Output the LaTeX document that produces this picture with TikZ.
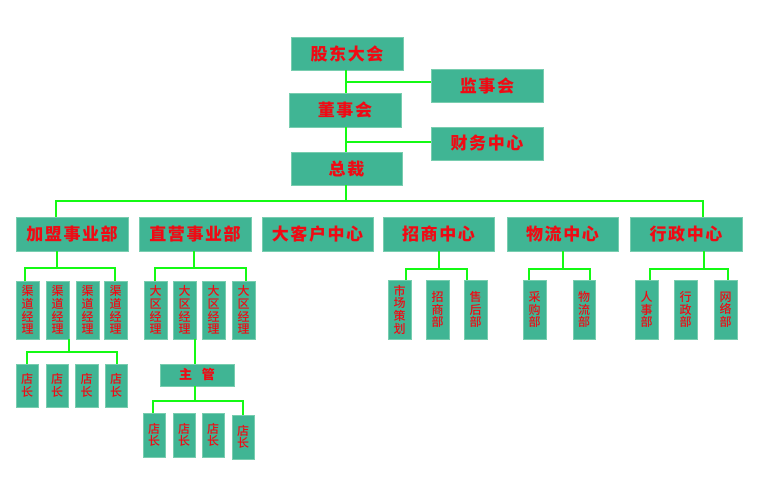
\documentclass[tikz,border=0pt]{standalone}
\usepackage{fontspec}
\newfontfamily\cjkw{Noto Sans CJK SC}[LetterSpace=9]
\newfontfamily\cjk{Noto Sans CJK SC}[UprightFont={* Medium}]
\definecolor{boxfill}{RGB}{64,181,148}
\definecolor{boxline}{RGB}{120,205,175}
\definecolor{txtred}{RGB}{240,10,20}
\definecolor{lngreen}{RGB}{20,250,20}
\tikzset{
  box/.style={draw=boxline, line width=0.8pt, fill=boxfill, inner sep=0pt, outer sep=0pt, text=txtred},
  big/.style={box, font=\cjkw\bfseries\fontsize{17}{20}\selectfont},
  vert/.style={box, align=center, font=\cjk\fontsize{12}{12.6}\selectfont},
  mid/.style={box, font=\cjkw\bfseries\fontsize{13}{15}\selectfont},
  ln/.style={draw=lngreen, line width=2.8pt}
}
\newcommand{\bx}[7]{\node[#1, minimum width=#4pt-#2pt, minimum height=#5pt-#3pt] (#6) at ({(#2+#4)/2},{(#3+#5)/2}) {#7};}
\begin{document}
\begin{tikzpicture}[x=1pt,y=-1pt]
\useasboundingbox[fill=white] (0,0) rectangle (760,489);
% top
\bx{big}{291}{37}{403}{70}{gd}{股东大会}
\bx{big}{431}{69}{543}{102}{js}{监事会}
\bx{big}{289}{93}{401}{127}{ds}{董事会}
\bx{big}{431}{127}{543}{160}{cw}{财务中心}
\bx{big}{291}{152}{402}{185}{zc}{总裁}
% level 2
\bx{big}{16}{217}{128}{251}{jm}{加盟事业部}
\bx{big}{139}{217}{251}{251}{zy}{直营事业部}
\bx{big}{262}{217}{373}{251}{dk}{大客户中心}
\bx{big}{383}{217}{494}{251}{zs}{招商中心}
\bx{big}{507}{217}{618}{251}{wl}{物流中心}
\bx{big}{630}{217}{742}{251}{xz}{行政中心}
% 加盟 subs
\bx{vert}{16}{281}{39}{339}{qa}{渠\\道\\经\\理}
\bx{vert}{46}{281}{69}{339}{qb}{渠\\道\\经\\理}
\bx{vert}{76}{281}{99}{339}{qc}{渠\\道\\经\\理}
\bx{vert}{104}{281}{127}{339}{qd}{渠\\道\\经\\理}
\bx{vert}{16}{364}{38}{407}{da}{店\\长}
\bx{vert}{46}{364}{68}{407}{db}{店\\长}
\bx{vert}{75}{364}{98}{407}{dc}{店\\长}
\bx{vert}{105}{364}{127}{407}{dd}{店\\长}
% 直营 subs
\bx{vert}{144}{281}{167}{339}{ra}{大\\区\\经\\理}
\bx{vert}{173}{281}{196}{339}{rb}{大\\区\\经\\理}
\bx{vert}{202}{281}{225}{339}{rc}{大\\区\\经\\理}
\bx{vert}{232}{281}{255}{339}{rd}{大\\区\\经\\理}
\bx{mid}{160}{364}{234}{386}{zg}{主\hspace{10pt}管}
\bx{vert}{143}{413}{165}{457}{ea}{店\\长}
\bx{vert}{173}{413}{195}{457}{eb}{店\\长}
\bx{vert}{202}{413}{224}{457}{ec}{店\\长}
\bx{vert}{232}{415}{254}{459}{ed}{店\\长}
% 招商 subs
\bx{vert}{388}{280}{411}{339}{sa}{市\\场\\策\\划}
\bx{vert}{426}{280}{449}{339}{sb}{招\\商\\部}
\bx{vert}{464}{280}{487}{339}{sc}{售\\后\\部}
% 物流 subs
\bx{vert}{523}{280}{546}{339}{wa}{采\\购\\部}
\bx{vert}{573}{280}{595}{339}{wb}{物\\流\\部}
% 行政 subs
\bx{vert}{635}{280}{658}{339}{xa}{人\\事\\部}
\bx{vert}{674}{280}{697}{339}{xb}{行\\政\\部}
\bx{vert}{714}{280}{737}{339}{xc}{网\\络\\部}
% connectors top
\draw[ln] (gd.south -| 346,0) -- (ds.north -| 346,0);
\draw[ln] (ds.south -| 346,0) -- (zc.north -| 346,0);
\draw[ln] (346,82) -- (js.west |- 0,82);
\draw[ln] (346,142) -- (cw.west |- 0,142);
\coordinate (tb) at (346,201);
\draw[ln] (zc.south -| tb) -- (tb);
\draw[ln] (jm.north -| 56,0) |- (tb) -| (xz.north -| 703,0);
% 加盟
\draw[ln] (jm.south -| 57,0) -- (57,268);
\draw[ln] (qa.north -| 25,0) |- (57,268) -| (qd.north -| 115,0);
\draw[ln] (qb.south -| 69,0) -- (69,352);
\draw[ln] (da.north -| 27,0) |- (69,352) -| (dd.north -| 117,0);
% 直营
\draw[ln] (zy.south -| 194,0) -- (194,268);
\draw[ln] (ra.north -| 155,0) |- (194,268) -| (rd.north -| 246,0);
\draw[ln] (rb.south -| 195,0) -- (zg.north -| 195,0);
\draw[ln] (zg.south -| 195,0) -- (195,401);
\draw[ln] (ea.north -| 153,0) |- (195,401) -| (ed.north -| 243,0);
% 招商
\draw[ln] (zs.south -| 439,0) -- (439,269);
\draw[ln] (sa.north -| 406,0) |- (439,269) -| (sc.north -| 467,0);
% 物流
\draw[ln] (wl.south -| 563,0) -- (563,269);
\draw[ln] (wa.north -| 529,0) |- (563,269) -| (wb.north -| 590,0);
% 行政
\draw[ln] (xz.south -| 704,0) -- (704,269);
\draw[ln] (xa.north -| 650,0) |- (704,269) -| (xc.north -| 728,0);
\end{tikzpicture}
\end{document}
